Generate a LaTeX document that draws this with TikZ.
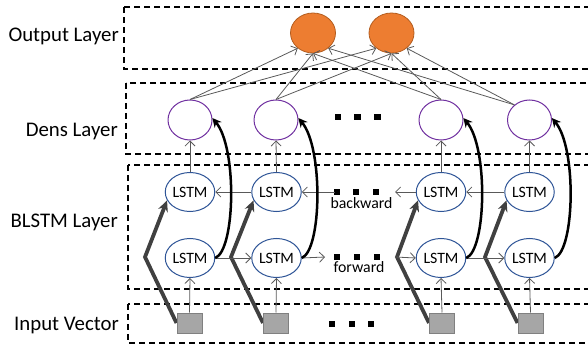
\documentclass[tikz,border=0pt]{standalone}
\usepackage{fontspec}
\setmainfont{Carlito}
\usetikzlibrary{shapes.geometric,arrows.meta,backgrounds}
\definecolor{orfill}{HTML}{ED7D31}
\definecolor{ordraw}{HTML}{B35C1E}
\definecolor{purp}{HTML}{7030A0}
\definecolor{lblue}{HTML}{2F5597}
\definecolor{sqfill}{HTML}{A6A6A6}
\definecolor{sqdraw}{HTML}{808080}
\definecolor{thk}{HTML}{404040}
\definecolor{thingray}{HTML}{595959}
\begin{document}
\begin{tikzpicture}[x=1pt,y=-1pt,
  layerbox/.style={draw=black, dash pattern=on 6pt off 4pt, line width=1.2pt},
  laylabel/.style={anchor=base east, font=\fontsize{20.8}{24}\selectfont, inner sep=0},
  outnode/.style={ellipse, fill=orfill, draw=ordraw, line width=0.8pt, minimum width=45pt, minimum height=40pt, inner sep=0},
  densenode/.style={ellipse, draw=purp, fill=white, line width=1pt, minimum width=44pt, minimum height=40pt, inner sep=0},
  lstmnode/.style={ellipse, draw=lblue, fill=white, line width=1pt, minimum width=45pt, minimum height=39pt, inner sep=0, font=\fontsize{15.8}{18}\selectfont},
  inbox/.style={rectangle, fill=sqfill, draw=sqdraw, line width=1pt, minimum width=25pt, minimum height=20pt, inner sep=0},
  dotbox/.style={rectangle, fill=black, minimum size=6.5pt, inner sep=0},
  thinarrow/.style={draw=thingray, line width=0.8pt, -{Straight Barb[length=5pt,width=10pt]}},
  bigarrow/.style={draw=thk, line width=3.8pt, line join=miter, -{Stealth[length=11pt,width=10pt]}},
  curvearrow/.style={draw=black, line width=2.5pt, -{Stealth[length=9pt,width=9pt]}},
  smalltext/.style={font=\fontsize{15.8}{18}\selectfont, inner sep=0}
]
\useasboundingbox (0,0) rectangle (588,347);
\clip (0,0) rectangle (588,347);

% layer labels
\node[laylabel] (lout) at (119,42) {Output Layer};
\node[laylabel] (lden) at (118,137) {Dens Layer};
\node[laylabel] (lbl) at (118,227) {BLSTM Layer};
\node[laylabel] (lin) at (119,330) {Input Vector};

% output nodes
\node[outnode] (o1) at (313,33) {};
\node[outnode] (o2) at (391.5,33) {};

% dense nodes
\node[densenode] (d1) at (190,120) {};
\node[densenode] (d2) at (276,120) {};
\node[densenode] (d3) at (441,120) {};
\node[densenode] (d4) at (529.5,120) {};
\node[dotbox] (dd1) at (338,117) {};
\node[dotbox] (dd2) at (357.5,117) {};
\node[dotbox] (dd3) at (377.5,117) {};

% LSTM nodes
\node[lstmnode] (t1) at (190,192) {LSTM};
\node[lstmnode] (t2) at (276.5,192) {LSTM};
\node[lstmnode] (t3) at (441,192) {LSTM};
\node[lstmnode] (t4) at (529.5,192) {LSTM};
\node[lstmnode] (b1) at (190,258) {LSTM};
\node[lstmnode] (b2) at (276.5,258) {LSTM};
\node[lstmnode] (b3) at (441,258) {LSTM};
\node[lstmnode] (b4) at (529.5,258) {LSTM};
\node[dotbox] (td1) at (337,192) {};
\node[dotbox] (td2) at (356,192) {};
\node[dotbox] (td3) at (376,192) {};
\node[dotbox] (bd1) at (337,257) {};
\node[dotbox] (bd2) at (357,257) {};
\node[dotbox] (bd3) at (377,257) {};
\node[smalltext] (bw) at (361.5,203.5) {backward};
\node[smalltext] (fw) at (359,267) {forward};

% input squares
\node[inbox] (s1) at (189.5,323) {};
\node[inbox] (s2) at (276,323) {};
\node[inbox] (s3) at (442,323) {};
\node[inbox] (s4) at (530.5,323) {};
\node[dotbox] (id1) at (332,324) {};
\node[dotbox] (id2) at (352,324) {};
\node[dotbox] (id3) at (371,324) {};

% free ends near the dots
\coordinate (bk2) at (335,192);
\coordinate (bk3) at (395,192);
\coordinate (fw2) at (325,257);
\coordinate (fw3) at (395,257);
% bends of the thick gray arrows
\coordinate (v1) at (145,257);
\coordinate (v2) at (231,257);
\coordinate (v3) at (397,257);
\coordinate (v4) at (485,257);

\begin{scope}[on background layer]
  \draw[layerbox] (124,7) rectangle (600,69);
  \draw[layerbox] (126,83) rectangle (600,154);
  \draw[layerbox] (128,165) rectangle (600,289);
  \draw[layerbox] (128,304) rectangle (600,343);
  \draw[bigarrow] (s1.west) -- (v1) -- (t1.200);
  \draw[bigarrow] (s2.west) -- (v2) -- (t2.200);
  \draw[bigarrow] (s3.west) -- (v3) -- (t3.200);
  \draw[bigarrow] (s4.west) -- (v4) -- (t4.200);
\end{scope}

% thin vertical arrows
\foreach \i in {1,2,3,4}{
  \draw[thinarrow] (s\i.north) -- (b\i.south);
  \draw[thinarrow] (t\i.north) -- (d\i.south);
}
% backward
\draw[thinarrow] (t2.west) -- (t1.east);
\draw[thinarrow] (bk2) -- (t2.east);
\draw[thinarrow] (t3.west) -- (bk3);
\draw[thinarrow] (t4.west) -- (t3.east);
% forward
\draw[thinarrow] (b1.east) -- (b2.west);
\draw[thinarrow] (b2.east) -- (fw2);
\draw[thinarrow] (fw3) -- (b3.west);
\draw[thinarrow] (b3.east) -- (b4.west);

% dense -> output
\draw[thinarrow] (d1.north) -- (o1.225);
\draw[thinarrow] (d1.north) -- (o2.225);
\draw[thinarrow] (d2.north) -- (o1.south);
\draw[thinarrow] (d2.north) -- (o2.south);
\draw[thinarrow] (d3.north) -- (o1.south);
\draw[thinarrow] (d3.north) -- (o2.south);
\draw[thinarrow] (d4.135) -- (o1.-45);
\draw[thinarrow] (d4.135) -- (o2.-45);

% thick black curves
\draw[curvearrow] (b1.east) .. controls +(20,-8) and +(25,30) .. (d1.5);
\draw[curvearrow] (b2.east) .. controls +(20,-8) and +(25,30) .. (d2.5);
\draw[curvearrow] (b3.east) .. controls +(20,-8) and +(25,30) .. (d3.5);
\draw[curvearrow] (b4.east) .. controls +(20,-8) and +(25,30) .. (d4.5);
\end{tikzpicture}
\end{document}
